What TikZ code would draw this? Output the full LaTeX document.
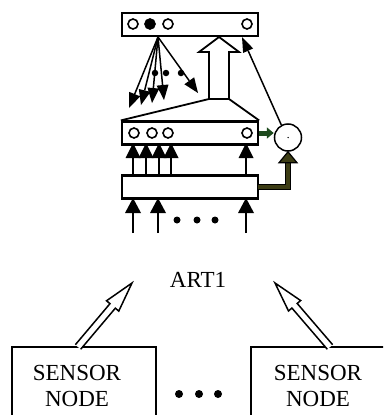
\documentclass[tikz,border=0pt]{standalone}
\usepackage{fontspec}
\setmainfont{Liberation Serif}
\usetikzlibrary{arrows.meta,calc}
\newcommand\myarrow[5]{% #1 from, #2 tip, #3 head length, #4 head half width, #5 line width
  \coordinate (hb) at ($(#2)!#3!(#1)$);
  \draw[line width=#5] (#1) -- (hb);
  \fill[line join=miter] (#2) -- ($(hb)!#4!90:(#2)$) -- ($(hb)!#4!-90:(#2)$) -- cycle;}
\begin{document}
\begin{tikzpicture}[x=1pt,y=-1pt,
  layerbox/.style={draw,line width=2.2pt,rectangle,inner sep=0pt,minimum width=136pt,minimum height=23pt},
  unit/.style={draw,line width=1.6pt,circle,inner sep=0pt,minimum size=10pt},
  dotb/.style={circle,fill,inner sep=0pt,minimum size=7pt},
  hollow/.style={draw,line width=1.5pt,line join=miter,fill=white},
  txt/.style={font=\fontsize{23}{26}\selectfont,align=center,inner sep=0pt}
]
\useasboundingbox (0,0) rectangle (383,415);
% layers
\node[layerbox] (top) at (190,24.5) {};
\node[layerbox] (mid) at (190,133) {};
\node[layerbox] (low) at (190,187) {};
% units top
\node[unit] (t1) at (133,24) {};
\node[unit,fill=black] (t2) at (150,24) {};
\node[unit] (t3) at (168,24) {};
\node[unit] (t4) at (247,24) {};
% units mid
\node[unit] (m1) at (134,133) {};
\node[unit] (m2) at (152,133) {};
\node[unit] (m3) at (168,133) {};
\node[unit] (m4) at (247,133) {};
% big hollow arrow
\draw[line width=1.8pt,line join=miter] (209,99) -- (209,52) -- (199,52) -- (219,37) -- (239,52) -- (229,52) -- (229,99) -- cycle;
\draw[line width=1.8pt] (209,99) -- (mid.north west);
\draw[line width=1.8pt] (229,99) -- (mid.north east);
% fan
\coordinate (f0) at (158,37);
\coordinate (f1) at (129,108);
\coordinate (f2) at (141,105);
\coordinate (f3) at (152,103);
\coordinate (f4) at (164,100);
\coordinate (f5) at (198,93);
\foreach \f in {f1,f2,f3,f4,f5} {\myarrow{f0}{\f}{15pt}{6pt}{1.5pt}}
\node[dotb,minimum size=6.5pt] (fd1) at (155,73) {};
\node[dotb,minimum size=6.5pt] (fd2) at (166,73) {};
\node[dotb,minimum size=6.5pt] (fd3) at (181,73) {};
% arrows lower -> mid
\foreach \x in {133,146,159,171,246} {
  \coordinate (ua) at (\x,176); \coordinate (ub) at (\x,143);
  \myarrow{ua}{ub}{15pt}{7.5pt}{1.8pt}}
% inputs
\foreach \x in {133,158,246} {
  \coordinate (ia) at (\x,233); \coordinate (ib) at (\x,198);
  \myarrow{ia}{ib}{15pt}{8pt}{1.8pt}}
\node[dotb] (d1) at (177,220) {};
\node[dotb] (d2) at (197,220) {};
\node[dotb] (d3) at (215,220) {};
% orienting circle
\node[draw,circle,line width=1.5pt,minimum size=27pt,inner sep=0pt] (orient) at (288,137.5) {};
\node[circle,fill,inner sep=0pt,minimum size=1.5pt] (oc) at (orient.center) {};
\coordinate (rt) at (242,37);
\myarrow{orient.118}{rt}{15pt}{5.5pt}{1.5pt}
\draw[line width=5pt,color={rgb,255:red,30;green,75;blue,30},-{Triangle[width=11pt,length=7pt]}] (mid.east) -- (orient.west |- mid.east);
\draw[line width=6.5pt,line join=miter] (low.east) -| ($(orient.south)+(0,10)$);
\draw[line width=3.5pt,color={rgb,255:red,60;green,60;blue,20},line join=miter] ($(low.east)+(-1,0)$) -| ($(orient.south)+(0,10)$);
\draw[line width=1.2pt,fill={rgb,255:red,60;green,60;blue,20}] ($(orient.south)+(-9,11)$) -- (orient.south) -- ($(orient.south)+(9,11)$) -- cycle;
% ART1
\node[txt] (art) at (198,280) {ART1};
% sensor boxes
\begin{scope}
\clip (0,0) rectangle (383,415);
\draw[line width=1.8pt] (12,425) -- (12,347) -- (156,347) -- (156,425);
\draw[line width=1.8pt] (251,425) -- (251,347) -- (395,347);
\end{scope}
\coordinate (sl) at (78,347);
\coordinate (sr) at (330,347);
\node[txt] (s1) at (77,386) {SENSOR\\NODE};
\node[txt] (s2) at (318,386) {SENSOR\\NODE};
\node[dotb,minimum size=8pt] (e1) at (179,394) {};
\node[dotb,minimum size=8pt] (e2) at (199,394) {};
\node[dotb,minimum size=8pt] (e3) at (218,394) {};
% hollow arrows
\coordinate (pl) at (132,283);
\coordinate (pr) at (275,283);
\coordinate (hl) at ($(pl)!30pt!(sl)$);
\coordinate (hr) at ($(pr)!30pt!(sr)$);
\draw[hollow] ($(sl)!3.5pt!90:(pl)$) -- ($(hl)!3.5pt!90:(pl)$) -- ($(hl)!8pt!90:(pl)$) -- (pl) -- ($(hl)!8pt!-90:(pl)$) -- ($(hl)!3.5pt!-90:(pl)$) -- ($(sl)!3.5pt!-90:(pl)$);
\draw[hollow] ($(sr)!3.5pt!90:(pr)$) -- ($(hr)!3.5pt!90:(pr)$) -- ($(hr)!8pt!90:(pr)$) -- (pr) -- ($(hr)!8pt!-90:(pr)$) -- ($(hr)!3.5pt!-90:(pr)$) -- ($(sr)!3.5pt!-90:(pr)$);
\end{tikzpicture}
\end{document}
